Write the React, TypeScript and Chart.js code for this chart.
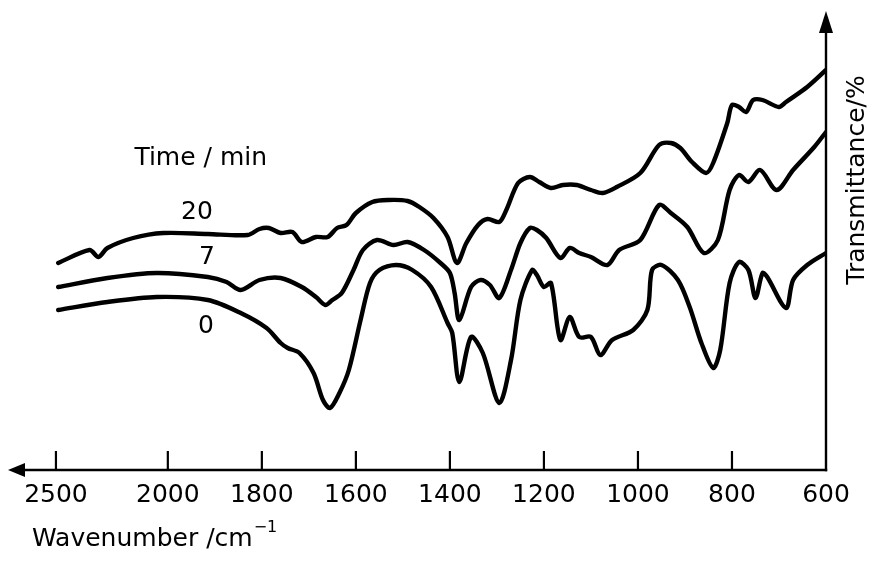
import React, { useEffect, useRef } from "react";
import { Chart, registerables, LinearScale } from "chart.js";

// ---- data (wavenumber in cm^-1, transmittance in arbitrary offset units) ----
const tickValues = [2500, 2000, 1800, 1600, 1400, 1200, 1000, 800, 600];

const wn20 = [2490, 2350, 2310, 2270, 2155, 2020, 1915, 1830, 1805, 1785, 1760, 1735, 1715, 1685, 1660, 1640, 1620, 1600, 1565, 1530, 1490, 1465, 1435, 1405, 1385, 1365, 1340, 1320, 1295, 1280, 1255, 1230, 1210, 1185, 1160, 1130, 1100, 1075, 1045, 995, 955, 930, 910, 885, 855, 840, 810, 800, 785, 770, 755, 735, 700, 685, 640, 600];
const t20 = [207, 220, 213, 222, 232, 237, 236, 235, 241, 242, 237, 238, 228, 233, 233, 242, 245, 257, 268, 270, 269, 263, 252, 233, 207, 227, 245, 251, 248, 260, 287, 293, 288, 282, 285, 285, 280, 277, 283, 297, 325, 327, 322, 308, 297, 307, 347, 365, 363, 358, 370, 370, 363, 368, 383, 400];

const wn7 = [2490, 2270, 2050, 1915, 1875, 1845, 1805, 1760, 1715, 1685, 1665, 1650, 1630, 1605, 1585, 1555, 1520, 1490, 1455, 1420, 1400, 1390, 1380, 1355, 1335, 1315, 1295, 1270, 1250, 1230, 1215, 1195, 1165, 1145, 1125, 1100, 1065, 1040, 995, 955, 930, 895, 860, 830, 805, 785, 765, 740, 705, 670, 625, 600];
const t7 = [183, 192, 197, 193, 188, 180, 190, 192, 183, 173, 165, 170, 177, 200, 220, 230, 225, 228, 220, 207, 197, 177, 150, 183, 190, 185, 172, 200, 227, 242, 240, 232, 212, 222, 217, 213, 205, 220, 230, 265, 257, 243, 217, 230, 280, 295, 288, 300, 280, 300, 323, 338];

const wn0 = [2490, 2270, 2050, 1915, 1845, 1790, 1760, 1745, 1720, 1690, 1670, 1655, 1635, 1615, 1590, 1570, 1550, 1515, 1480, 1440, 1405, 1395, 1380, 1355, 1330, 1295, 1270, 1250, 1225, 1215, 1200, 1185, 1165, 1145, 1125, 1100, 1080, 1055, 1010, 980, 970, 950, 915, 890, 865, 840, 825, 805, 785, 765, 750, 735, 725, 685, 670, 640, 600];
const t0 = [160, 168, 173, 170, 157, 142, 127, 122, 117, 97, 70, 62, 77, 100, 150, 187, 200, 205, 200, 183, 147, 137, 88, 133, 117, 67, 110, 170, 200, 195, 183, 187, 130, 153, 133, 133, 115, 130, 140, 160, 200, 205, 190, 163, 127, 102, 120, 187, 208, 200, 172, 197, 193, 162, 190, 205, 217];

const seriesNames = ["20", "7", "0"];
const noteTexts = ["Time / min", "20", "7", "0"];
const noteWn = [1930, 1938, 1917, 1919];
const noteT = [312, 258, 213, 144];

const xTitle = "Wavenumber /cm";
const xTitleSup = "\u22121";
const yTitle = "Transmittance/%";

// ---- scale with compressed region above 2000 cm^-1 ----
const BREAK = 2000;
const SQUEEZE = 0.476;
const warp = (v: number) => (v <= BREAK ? v : BREAK + (v - BREAK) * SQUEEZE);
const unwarp = (w: number) => (w <= BREAK ? w : BREAK + (w - BREAK) / SQUEEZE);

class BrokenAxis extends LinearScale {
  static id = "brokenAxis";
  static defaults = { ...(LinearScale as any).defaults };
  getPixelForValue(value: any) {
    if (value === null || value === undefined || isNaN(value)) return NaN;
    const a = warp((this as any).min);
    const b = warp((this as any).max);
    return this.getPixelForDecimal((warp(+value) - a) / (b - a));
  }
  getValueForPixel(pixel: number) {
    const a = warp((this as any).min);
    const b = warp((this as any).max);
    return unwarp(a + this.getDecimalForPixel(pixel) * (b - a));
  }
}

Chart.register(...registerables, BrokenAxis as any);

const FONT = "'DejaVu Sans', 'Liberation Sans', sans-serif";
const FSIZE = 25;

const axesPlugin = {
  id: "irAxes",
  afterDraw(chart: any) {
    const { ctx, chartArea, scales } = chart;
    const xs = scales.x;
    const ys = scales.y;
    const bottom = chartArea.bottom;
    const right = chartArea.right;
    ctx.save();
    ctx.strokeStyle = "#000";
    ctx.fillStyle = "#000";
    ctx.lineWidth = 2.4;
    ctx.lineCap = "butt";
    // x axis
    ctx.beginPath();
    ctx.moveTo(20, bottom);
    ctx.lineTo(right + 1.2, bottom);
    ctx.stroke();
    ctx.beginPath();
    ctx.moveTo(8, bottom);
    ctx.lineTo(25, bottom - 7);
    ctx.lineTo(25, bottom + 7);
    ctx.closePath();
    ctx.fill();
    // y axis
    ctx.beginPath();
    ctx.moveTo(right, bottom + 1.2);
    ctx.lineTo(right, 28);
    ctx.stroke();
    ctx.beginPath();
    ctx.moveTo(right, 11);
    ctx.lineTo(right - 7, 33);
    ctx.lineTo(right + 7, 33);
    ctx.closePath();
    ctx.fill();
    // tick marks (inward)
    ctx.lineWidth = 2.2;
    tickValues.forEach((v) => {
      if (v === 600) return;
      const px = xs.getPixelForValue(v);
      ctx.beginPath();
      ctx.moveTo(px, bottom);
      ctx.lineTo(px, bottom - 19);
      ctx.stroke();
    });
    // annotations
    ctx.font = `${FSIZE}px ${FONT}`;
    ctx.textAlign = "center";
    ctx.textBaseline = "middle";
    noteTexts.forEach((t, i) => {
      ctx.fillText(t, xs.getPixelForValue(noteWn[i]), ys.getPixelForValue(noteT[i]));
    });
    // x title
    ctx.textAlign = "left";
    ctx.textBaseline = "alphabetic";
    const tx = chartArea.left;
    const ty = 546;
    ctx.fillText(xTitle, tx, ty);
    const w = ctx.measureText(xTitle).width;
    ctx.font = `${Math.round(FSIZE * 0.62)}px ${FONT}`;
    ctx.fillText(xTitleSup, tx + w + 1, ty - 14);
    // y title (reads bottom to top)
    ctx.font = `${FSIZE}px ${FONT}`;
    ctx.textAlign = "center";
    ctx.textBaseline = "middle";
    ctx.translate(857, 180);
    ctx.rotate(-Math.PI / 2);
    ctx.fillText(yTitle, 0, 0);
    ctx.restore();
  },
};

export default function App() {
  const ref = useRef<HTMLCanvasElement | null>(null);
  useEffect(() => {
    if (!ref.current) return;
    Chart.defaults.font.family = FONT;
    const mk = (wn: number[], t: number[], name: string) => ({
      label: name,
      data: wn.map((w, i) => ({ x: w, y: t[i] })),
      borderColor: "#000",
      borderWidth: 4.4,
      pointRadius: 0,
      tension: 0.3,
      fill: false,
      borderCapStyle: "round" as const,
      borderJoinStyle: "round" as const,
    });
    const chart = new Chart(ref.current, {
      type: "line",
      data: {
        datasets: [
          mk(wn20, t20, seriesNames[0]),
          mk(wn7, t7, seriesNames[1]),
          mk(wn0, t0, seriesNames[2]),
        ],
      },
      options: {
        animation: false,
        responsive: true,
        maintainAspectRatio: false,
        layout: { padding: { left: 32, top: 30, right: 46, bottom: 0 } },
        plugins: { legend: { display: false }, tooltip: { enabled: false } },
        scales: {
          x: {
            type: "brokenAxis" as any,
            min: 600,
            max: 2607,
            reverse: true,
            grid: { display: false, drawTicks: false },
            border: { display: false },
            afterBuildTicks: (s: any) => {
              s.ticks = tickValues.map((value) => ({ value }));
            },
            afterFit: (s: any) => {
              s.height = 91;
            },
            ticks: {
              autoSkip: false,
              maxRotation: 0,
              minRotation: 0,
              padding: 10,
              color: "#000",
              font: { size: FSIZE, family: FONT },
              callback: (v: any) => String(v),
            },
            title: { display: false },
          } as any,
          y: {
            display: false,
            min: 0,
            max: 440,
          },
        },
      },
      plugins: [axesPlugin],
    });
    return () => chart.destroy();
  }, []);
  return (
    <div style={{ position: "fixed", left: 0, top: 0, width: 872, height: 561, background: "#fff" }}>
      <canvas ref={ref} />
    </div>
  );
}
